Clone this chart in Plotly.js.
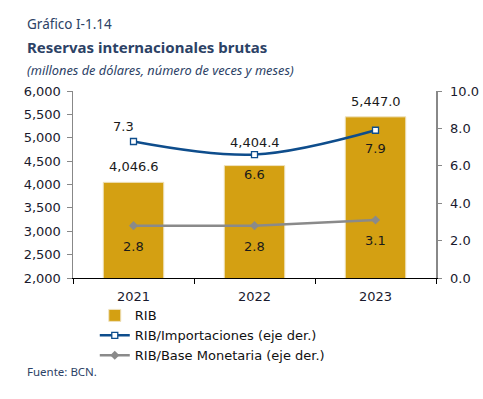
<!DOCTYPE html>
<html><head><meta charset="utf-8">
<script src="https://cdn.plot.ly/plotly-3.0.1.min.js"></script>
<style>body{margin:0;background:#fff}#c{width:483px;height:399px}</style>
</head><body><div id="c"></div>
<script>
const years = ['2021', '2022', '2023'];
const rib = [4046.6, 4404.4, 5447.0];
const ribImport = [7.3, 6.6, 7.9];
const ribBase = [2.8, 2.8, 3.1];
const leftTicks = [2000, 2500, 3000, 3500, 4000, 4500, 5000, 5500, 6000];
const rightTicks = [0, 2, 4, 6, 8, 10];

const fmt = v => v.toLocaleString('en-US', {minimumFractionDigits: 1, maximumFractionDigits: 1});
const vfont = 'DejaVu Sans';
const tickFont = {family: vfont, size: 13, color: '#1a1a2e'};
const labFont = {family: vfont, size: 13, color: '#1a1a1a'};
const titleFont = 'Noto Sans';

const traces = [
  {type: 'bar', x: years, y: rib, name: 'RIB', marker: {color: '#D4A012', line: {color: '#EFE3C0', width: 1}}, width: 0.5, hoverinfo: 'none'},
  {type: 'scatter', mode: 'lines+markers', x: years, y: ribImport, yaxis: 'y2', name: 'RIB/Importaciones (eje der.)',
   line: {color: '#0E4D8C', width: 2.5, shape: 'spline'}, marker: {symbol: 'square', size: 6, color: '#ffffff', line: {color: '#0E4D8C', width: 1.3}}},
  {type: 'scatter', mode: 'lines+markers', x: years, y: ribBase, yaxis: 'y2', name: 'RIB/Base Monetaria (eje der.)',
   line: {color: '#8A8A8A', width: 2.5}, marker: {symbol: 'diamond', size: 7, color: '#8A8A8A'}}
];

const ann = [];
rib.forEach((v, i) => ann.push({x: i, y: v, xref: 'x', yref: 'y', text: fmt(v), showarrow: false, yanchor: 'bottom', yshift: i === 1 ? 14 : 6, font: labFont}));
ribImport.forEach((v, i) => {
  const above = i === 0;
  ann.push({x: i, y: v, xref: 'x', yref: 'y2', text: fmt(v), showarrow: false, xshift: i === 0 ? -10 : 0,
            yanchor: above ? 'bottom' : 'top', yshift: above ? 5 : (i === 1 ? -10 : -9), font: labFont});
});
ribBase.forEach((v, i) => ann.push({x: i, y: v, xref: 'x', yref: 'y2', text: fmt(v), showarrow: false, yanchor: 'top', yshift: -11, font: labFont}));

ann.push({xref: 'paper', yref: 'paper', x: -0.133, y: 1, xanchor: 'left', yanchor: 'bottom', yshift: 56, text: 'Gráfico I-1.14', showarrow: false, font: {family: titleFont, size: 13.5, color: '#2C4266'}});
ann.push({xref: 'paper', yref: 'paper', x: -0.133, y: 1, xanchor: 'left', yanchor: 'bottom', yshift: 32, text: '<b>Reservas internacionales brutas</b>', showarrow: false, font: {family: titleFont, size: 15, color: '#2C4266'}});
ann.push({xref: 'paper', yref: 'paper', x: -0.133, y: 1, xanchor: 'left', yanchor: 'bottom', yshift: 10, text: '<i>(millones de dólares, número de veces y meses)</i>', showarrow: false, font: {family: titleFont, size: 12.8, color: '#2C4266'}});
ann.push({xref: 'paper', yref: 'paper', x: -0.133, y: 0, xanchor: 'left', yanchor: 'top', yshift: -84, text: 'Fuente: BCN.', showarrow: false, font: {family: titleFont, size: 11.5, color: '#2C4266'}});

const layout = {
  width: 483, height: 399,
  margin: {l: 73, r: 47, t: 91, b: 121},
  paper_bgcolor: '#fff', plot_bgcolor: '#fff',
  showlegend: true,
  legend: {orientation: 'v', x: 0.06, y: -0.12, xanchor: 'left', yanchor: 'top',
           font: {family: vfont, size: 13, color: '#111'}, tracegroupgap: 0, itemwidth: 30, bgcolor: 'rgba(0,0,0,0)'},
  xaxis: {type: 'category', tickson: 'boundaries', ticks: 'outside', ticklen: 5, tickcolor: '#000', showline: true, linecolor: '#000', linewidth: 1,
          tickfont: tickFont, ticklabelstandoff: 6, showgrid: false, zeroline: false},
  yaxis: {range: [2000, 6000], tickvals: leftTicks, tickformat: ',d', ticks: 'outside', ticklen: 5, tickcolor: '#888', showline: true, linecolor: '#888', linewidth: 1.5,
          tickfont: tickFont, ticklabelstandoff: 3, showgrid: false, zeroline: false},
  yaxis2: {overlaying: 'y', side: 'right', range: [0, 10], tickvals: rightTicks, tickformat: '.1f', ticks: 'outside', ticklen: 4, tickcolor: '#888', showline: true, linecolor: '#888', linewidth: 1.5,
           tickfont: tickFont, ticklabelstandoff: 6, showgrid: false, zeroline: false},
  annotations: ann
};
Plotly.newPlot('c', traces, layout, {displayModeBar: false, staticPlot: true});
</script></body></html>
